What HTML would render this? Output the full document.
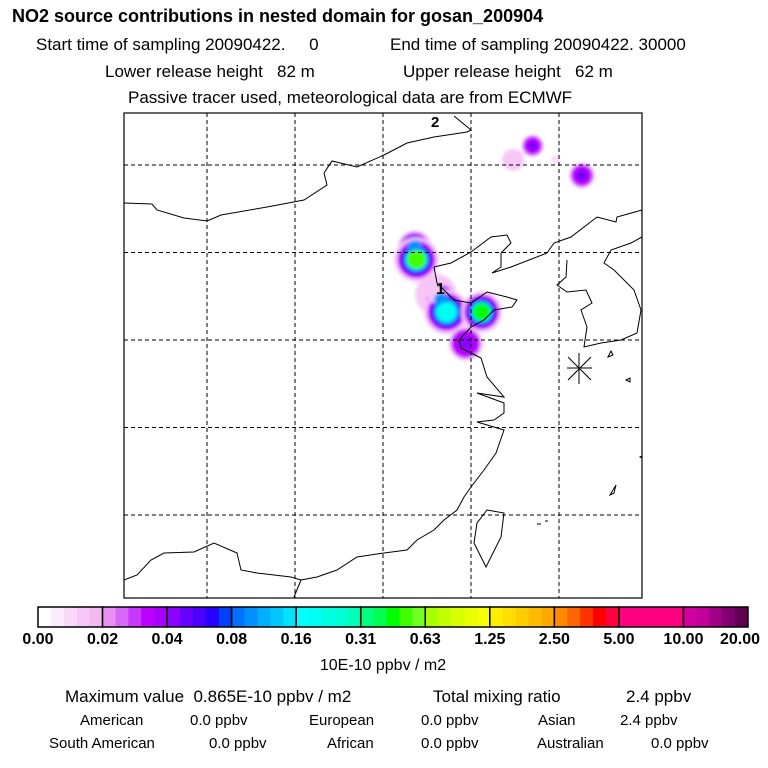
<!DOCTYPE html>
<html><head><meta charset="utf-8"><style>
html,body{margin:0;padding:0;background:#fff;}
svg{display:block;font-family:"Liberation Sans",sans-serif;}
</style></head><body>
<svg id="chart" width="768" height="768" viewBox="0 0 768 768">
<defs><filter id="blur" x="-50%" y="-50%" width="200%" height="200%"><feGaussianBlur stdDeviation="1.6"/></filter>
<clipPath id="mapclip"><rect x="124" y="113" width="518" height="485"/></clipPath></defs>
<text x="12" y="22" font-size="18" font-weight="bold">NO2 source contributions in nested domain for gosan_200904</text>
<text x="36" y="50" font-size="17" xml:space="preserve">Start time of sampling 20090422.     0</text>
<text x="390" y="50" font-size="17">End time of sampling 20090422. 30000</text>
<text x="105" y="77" font-size="17" xml:space="preserve">Lower release height   82 m</text>
<text x="403" y="77" font-size="17" xml:space="preserve">Upper release height   62 m</text>
<text x="128" y="103" font-size="17">Passive tracer used, meteorological data are from ECMWF</text>
<g id="map" clip-path="url(#mapclip)">
<g id="plume" filter="url(#blur)"></g>
<g id="grid"></g>
<g fill="none" stroke="#000" stroke-width="1">
<path d="M124,203 L152,204 L157,210 L184,218 L207,221 L221,215 L267,207 L304,200 L327,185 L324,173 L332,161 L357,167 L384,155 L407,143 L434,137 L467,132 L471,130 L454,116"/>
<path d="M434,267 L451,263 L471,252 L491,237 L507,235 L511,243 L501,253 L501,267 L492,273 L511,267 L547,253 L554,243 L571,237 L597,217 L616,222 L617,217 L642,210"/>
<path d="M567,260 L566,277 L557,285 L567,292 L586,290 L592,303 L581,310 L587,327 L584,347 L601,343 L621,340 L637,333 L641,310 L634,290 L614,270 L604,263 L611,250 L631,243 L642,237"/>
<path d="M434,267 L437,283 L454,300 L471,303 L487,292 L507,297 L517,300 L512,307 L494,310 L484,320 L471,327 L459,340 L461,348 L481,358 L487,377 L504,397 L477,393 L504,403 L504,413 L494,420 L477,422 L504,430 L496,453 L484,470 L471,487 L464,497 L457,510 L444,520 L434,530 L417,540 L407,550 L384,553 L357,557 L337,570 L317,577 L301,580 L294,597"/>
<path d="M124,580 L137,575 L151,560 L164,553 L194,552 L214,543 L237,553 L241,570 L257,573 L291,577 L301,580"/>
<path d="M487,510 L504,513 L501,537 L486,567 L474,543 L477,523 Z"/>
<path d="M608,357 l3,-6 l2,4 Z M626,380 l4,-2 l0,4 Z M640,457 l4,-2 l0,4 Z M610,495 l6,-10 l-2,8 Z M537,524 l4,0 M545,521 l3,0"/>
</g>
<g stroke="#000" stroke-width="1">
<path d="M568,357 L591,380 M591,357 L568,380 M579,353 L579,384 M567,368 L592,368"/>
</g>
<text x="431" y="127" font-size="15" font-weight="bold">2</text>
<text x="436" y="294" font-size="16" font-weight="bold">1</text>
</g>
<rect x="124" y="113" width="518" height="485" fill="none" stroke="#000" stroke-width="1.2"/>
<g id="colorbar"></g>
<text x="383" y="670" font-size="16" text-anchor="middle">10E-10 ppbv / m2</text>
<text x="65" y="702" font-size="17" xml:space="preserve">Maximum value  0.865E-10 ppbv / m2</text>
<text x="433" y="702" font-size="17">Total mixing ratio</text>
<text x="626" y="702" font-size="17">2.4 ppbv</text>
<g font-size="15">
<text x="80" y="725">American</text><text x="190" y="725">0.0 ppbv</text>
<text x="309" y="725">European</text><text x="421" y="725">0.0 ppbv</text>
<text x="538" y="725">Asian</text><text x="620" y="725">2.4 ppbv</text>
<text x="49" y="748">South American</text><text x="209" y="748">0.0 ppbv</text>
<text x="327" y="748">African</text><text x="421" y="748">0.0 ppbv</text>
<text x="537" y="748">Australian</text><text x="651" y="748">0.0 ppbv</text>
</g>
</svg>
<script>
// colour-bar levels
const levelLabels = ["0.00","0.02","0.04","0.08","0.16","0.31","0.63","1.25","2.50","5.00","10.00","20.00"];
const levelValues = [0,0.02,0.04,0.08,0.16,0.31,0.63,1.25,2.5,5,10,20];
const segShades = [
 ["#ffffff","#fdeafd","#fad8fa","#f6c6f6","#f2b8f2"],
 ["#e890f4","#d868f8","#c838fc","#bb00ff","#a800ff"],
 ["#8c00ff","#6800ff","#4a00ff","#2800ff","#0040ff"],
 ["#0070ff","#0090ff","#00b0ff","#00c8ff","#00e0ff"],
 ["#00ffff","#00fff0","#00ffe0","#00ffd0","#00ffb8"],
 ["#00ff80","#00ff50","#00ff00","#40ff00","#70ff20"],
 ["#a8ff00","#c0ff00","#d8ff00","#e8ff00","#f8ff00"],
 ["#ffee00","#ffdd00","#ffcc00","#ffbb00","#ffaa00"],
 ["#ff8800","#ff6600","#ff3300","#ff0000","#ff0040"],
 ["#ff0080","#ff0080","#ff0080","#ff0080","#ff0080"],
 ["#d000a0","#c00098","#a00088","#800070","#600050"]
];
// plume blobs: lon, lat, concentration (10E-10 ppbv/m2), radius (deg)
const blobLon = [116.9,116.8,118.3,118.6,120.6,119.7,118.0,123.5,126.3,122.4,124.8];
const blobLat = [39.6, 40.3, 37.3, 36.6, 36.6, 34.8, 37.6, 46.1, 44.4, 45.3, 45.3];
const blobVal = [0.55, 0.10, 0.10, 0.20, 0.50, 0.04, 0.012, 0.05, 0.05, 0.012, 0.010];
const blobRad = [1.1, 0.8, 0.8, 1.1, 1.0, 0.8, 1.0, 0.45, 0.55, 0.45, 0.5];
const gridLons = [105,110,115,120,125];
const gridLats = [45,40,35,30,25];

const NS="http://www.w3.org/2000/svg";
const xLon = lon => 471 + (lon-120)*17.6;
const yLat = lat => 340 - (lat-35)*17.5;
const cbX0=38, cbX1=748, cbY=607, cbH=20;
const segW=(cbX1-cbX0)/(levelLabels.length-1);
function colorFor(v){
  for(let i=levelValues.length-2;i>=0;i--){
    if(v>=levelValues[i]){
      const f=(v-levelValues[i])/(levelValues[i+1]-levelValues[i]);
      const s=segShades[i];return s[Math.min(s.length-1,Math.floor(f*s.length))];
    }
  }
  return "#ffffff";
}
const grid=document.getElementById('grid');
gridLons.forEach(l=>{const e=document.createElementNS(NS,'line');


e.setAttribute('x1',xLon(l));e.setAttribute('x2',xLon(l));e.setAttribute('y1',113);e.setAttribute('y2',598);
e.setAttribute('stroke','#000');e.setAttribute('stroke-dasharray','4,3');grid.appendChild(e);});
gridLats.forEach(l=>{const e=document.createElementNS(NS,'line');


e.setAttribute('y1',yLat(l));e.setAttribute('y2',yLat(l));e.setAttribute('x1',124);e.setAttribute('x2',642);
e.setAttribute('stroke','#000');e.setAttribute('stroke-dasharray','4,3');grid.appendChild(e);});

const plume=document.getElementById('plume');
const order=blobVal.map((v,i)=>i).sort((a,b)=>blobVal[a]-blobVal[b]);
order.forEach(i=>{
  const halo=[0.01,0.03,0.06,0.12];
  halo.forEach((h,k)=>{ if(h<blobVal[i]){
    const c=document.createElementNS(NS,'circle');
    
    
    c.setAttribute('cx',xLon(blobLon[i]));c.setAttribute('cy',yLat(blobLat[i]));
    c.setAttribute('r',blobRad[i]*17.6*(1-k*0.18)+3);
    c.setAttribute('fill',colorFor(h*1.2));plume.appendChild(c);}});
});
order.forEach(i=>{
  const c=document.createElementNS(NS,'circle');
  
  
  c.setAttribute('cx',xLon(blobLon[i]));c.setAttribute('cy',yLat(blobLat[i]));
  c.setAttribute('r',blobRad[i]*17.6*0.5);
  c.setAttribute('fill',colorFor(blobVal[i]));plume.appendChild(c);
});

const cb=document.getElementById('colorbar');
segShades.forEach((shades,s)=>{
  const sw=segW/shades.length;
  shades.forEach((col,k)=>{
    const r=document.createElementNS(NS,'rect');
    
    
    r.setAttribute('x',cbX0+s*segW+k*sw);r.setAttribute('y',cbY);
    r.setAttribute('width',sw+0.5);r.setAttribute('height',cbH);r.setAttribute('fill',col);cb.appendChild(r);
  });
  const b=document.createElementNS(NS,'rect');
  
  
  b.setAttribute('x',cbX0+s*segW);b.setAttribute('y',cbY);b.setAttribute('width',segW);b.setAttribute('height',cbH);
  b.setAttribute('fill','none');b.setAttribute('stroke','#000');b.setAttribute('stroke-width','1.5');cb.appendChild(b);
});
levelLabels.forEach((t,i)=>{
  const e=document.createElementNS(NS,'text');
  
  
  let x=cbX0+i*segW;
  const last=i===levelLabels.length-1;
  e.setAttribute('x',last?760:x);
  e.setAttribute('y',644);
  e.setAttribute('text-anchor',last?'end':'middle');
  e.setAttribute('font-size','16');e.setAttribute('font-weight','bold');
  e.textContent=t;cb.appendChild(e);
});
</script>
</body></html>
